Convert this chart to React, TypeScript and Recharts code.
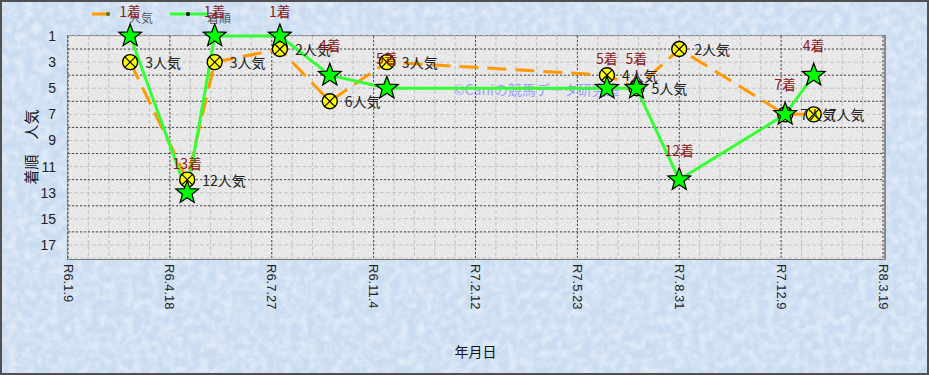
import React from "react";
import {
  LineChart,
  Line,
  XAxis,
  YAxis,
  CartesianGrid,
  LabelList,
} from "recharts";

// race dates (Reiwa era), finishing position and popularity rank
const raceDates = [
  "R6.3.10",
  "R6.5.5",
  "R6.6.1",
  "R6.8.4",
  "R6.9.22",
  "R6.11.17",
  "R7.6.21",
  "R7.7.20",
  "R7.8.31",
  "R7.12.13",
  "R8.1.10",
];
const finishPositions = [1, 13, 1, 1, 4, 5, 5, 5, 12, 7, 4];
const popularity = [3, 12, 3, 2, 6, 3, 4, 5, 2, 7, 7];

const xTickLabels = [
  "R6.1.9",
  "R6.4.18",
  "R6.7.27",
  "R6.11.4",
  "R7.2.12",
  "R7.5.23",
  "R7.8.31",
  "R7.12.9",
  "R8.3.19",
];
const yTicks = [1, 3, 5, 7, 9, 11, 13, 15, 17];
const yMajorGrid = [2, 4, 6, 8, 10, 12, 14, 16];

const ORANGE = "#ff9900";
const GREEN = "#33ff33";
const JP_FONT = "'Noto Sans CJK JP', sans-serif";
const NUM_FONT = "'Liberation Sans', Arial, sans-serif";

// "R6.1.9" -> day number
const toDay = (label: string) => {
  const [y, m, d] = label.slice(1).split(".").map(Number);
  return Date.UTC(2018 + y, m - 1, d) / 86400000;
};

const tickDays = xTickLabels.map(toDay);
const labelByDay = new Map(tickDays.map((d, i) => [d, xTickLabels[i]]));
const xMin = tickDays[0];
const xMax = tickDays[tickDays.length - 1];

// minor grid every 20 days / every rank
const xMinorGrid: number[] = [];
for (let d = xMin; d <= xMax; d += 20) xMinorGrid.push(d);
const yMinorGrid: number[] = [];
for (let v = 1; v <= 18; v++) yMinorGrid.push(v);

const data = raceDates.map((d, i) => ({
  day: toDay(d),
  finish: finishPositions[i],
  pop: popularity[i],
}));

const StarDot = (props: any) => {
  const { cx, cy, index } = props;
  if (cx == null || cy == null) return <g key={`s-${index}`} />;
  const pts: string[] = [];
  for (let k = 0; k < 10; k++) {
    const r = k % 2 === 0 ? 12 : 5;
    const a = -Math.PI / 2 + (k * Math.PI) / 5;
    pts.push(`${cx + r * Math.cos(a)},${cy + r * Math.sin(a)}`);
  }
  return (
    <polygon
      key={`s-${index}`}
      points={pts.join(" ")}
      fill="#00ff00"
      stroke="#000"
      strokeWidth={1.2}
      strokeLinejoin="miter"
    />
  );
};

const CrossDot = (props: any) => {
  const { cx, cy, index } = props;
  if (cx == null || cy == null) return <g key={`c-${index}`} />;
  const k = 5.3;
  return (
    <g key={`c-${index}`}>
      <circle cx={cx} cy={cy} r={7.5} fill="#ffff00" stroke="#000" strokeWidth={1.4} />
      <line x1={cx - k} y1={cy - k} x2={cx + k} y2={cy + k} stroke="#000" strokeWidth={1.2} />
      <line x1={cx + k} y1={cy - k} x2={cx - k} y2={cy + k} stroke="#000" strokeWidth={1.2} />
    </g>
  );
};

const FinishLabel = (props: any) => {
  const { x, y, value } = props;
  return (
    <text
      x={x}
      y={Math.max(y - 30, 11)}
      textAnchor="middle"
      dominantBaseline="central"
      fontSize={14}
      fontFamily={JP_FONT}
      fill="#8b1a1a"
    >
      {value}着
    </text>
  );
};

const PopLabel = (props: any) => {
  const { x, y, value } = props;
  return (
    <text
      x={x + 15}
      y={y}
      dominantBaseline="central"
      fontSize={14}
      fontFamily={JP_FONT}
      fill="#222"
    >
      {value}人気
    </text>
  );
};

const DateTick = ({ x, y, payload }: any) => (
  <text
    x={x}
    y={y}
    transform={`rotate(90 ${x} ${y})`}
    textAnchor="start"
    dominantBaseline="central"
    fontSize={13}
    fontFamily={NUM_FONT}
    fill="#222"
  >
    {labelByDay.get(payload.value) ?? ""}
  </text>
);

const YTitle = () => (
  <text
    x={30}
    y={147}
    transform="rotate(-90 30 147)"
    textAnchor="middle"
    dominantBaseline="central"
    fontSize={15}
    fontFamily={JP_FONT}
    fill="#111"
  >
    着順　人気
  </text>
);

const Texture = ({ id, freq, base, alpha }: { id: string; freq: number; base: string; alpha: number }) => (
  <svg width="100%" height="100%" style={{ position: "absolute", inset: 0 }}>
    <defs>
      <filter id={id} x="0" y="0" width="100%" height="100%">
        <feTurbulence type="fractalNoise" baseFrequency={freq} numOctaves={3} seed={4} />
        <feColorMatrix
          type="matrix"
          values="0 0 0 0 1  0 0 0 0 1  0 0 0 0 1  1.6 0 0 0 -0.55"
        />
      </filter>
    </defs>
    <rect width="100%" height="100%" fill={base} />
    <rect width="100%" height="100%" filter={`url(#${id})`} opacity={alpha} />
  </svg>
);

const App = () => {
  return (
    <div
      style={{
        position: "absolute",
        top: 0,
        left: 0,
        width: 929,
        height: 375,
        overflow: "hidden",
      }}
    >
      <Texture id="bgNoise" freq={0.12} base="#cadcf1" alpha={0.6} />

      {/* legend */}
      <svg width={929} height={30} style={{ position: "absolute", top: 0, left: 0 }}>
        <line x1={92} y1={14} x2={110} y2={14} stroke={ORANGE} strokeWidth={3} />
        <circle cx={108} cy={14} r={2} fill="#6b6b00" />
        <text x={129} y={17} fontSize={12} fontFamily={JP_FONT} fill="#555" dominantBaseline="central">
          人気
        </text>
        <line x1={170} y1={14} x2={207} y2={14} stroke={GREEN} strokeWidth={3} />
        <circle cx={188} cy={14} r={2} fill="#000" />
        <text x={207} y={17} fontSize={12} fontFamily={JP_FONT} fill="#555" dominantBaseline="central">
          着順
        </text>
      </svg>

      {/* plot background */}
      <div
        style={{
          position: "absolute",
          left: 67,
          top: 35,
          width: 816,
          height: 223,
          border: "1px solid #7a7a7a",
          borderRight: "2px solid #8a8a8a",
          overflow: "hidden",
        }}
      >
        <Texture id="plotNoise" freq={0.6} base="#e3e3e3" alpha={0.7} />
      </div>

      <div
        style={{
          position: "absolute",
          left: 453,
          top: 80,
          fontSize: 14,
          fontFamily: JP_FONT,
          color: "#9b9bff",
          whiteSpace: "nowrap",
          lineHeight: "18px",
        }}
      >
        ©Caniの競馬データ研究室
      </div>

      <div style={{ position: "absolute", top: 0, left: 0 }}>
        <LineChart
          width={929}
          height={375}
          data={data}
          margin={{ top: 36, right: 46, bottom: 0, left: 28 }}
        >
          <CartesianGrid
            horizontalValues={yMinorGrid}
            verticalValues={xMinorGrid}
            stroke="#c4c4c4"
            strokeDasharray="4 2"
          />
          <CartesianGrid
            horizontalValues={yMajorGrid}
            verticalValues={tickDays}
            stroke="#4a4a4a"
            strokeDasharray="2 2"
          />
          <XAxis
            dataKey="day"
            type="number"
            domain={[xMin, xMax]}
            ticks={tickDays}
            interval={0}
            height={117}
            axisLine={false}
            tickLine={false}
            tickSize={0}
            tickMargin={6}
            tick={<DateTick />}
            label={{
              value: "年月日",
              position: "insideBottom",
              offset: 18,
              fontSize: 14,
              fontFamily: JP_FONT,
              fill: "#111",
            }}
          />
          <YAxis
            type="number"
            domain={[1, 18]}
            reversed
            ticks={yTicks}
            interval={0}
            width={40}
            axisLine={false}
            tickLine={false}
            tickSize={6}
            tickMargin={6}
            tick={{ fontSize: 14, fill: "#222", fontFamily: NUM_FONT }}
            label={<YTitle />}
          />
          <Line
            type="linear"
            dataKey="pop"
            name="人気"
            stroke={ORANGE}
            strokeWidth={3}
            strokeDasharray="19 9"
            dot={CrossDot}
            activeDot={false}
            isAnimationActive={false}
          >
            <LabelList dataKey="pop" content={PopLabel} />
          </Line>
          <Line
            type="linear"
            dataKey="finish"
            name="着順"
            stroke={GREEN}
            strokeWidth={3}
            dot={StarDot}
            activeDot={false}
            isAnimationActive={false}
          >
            <LabelList dataKey="finish" content={FinishLabel} />
          </Line>
        </LineChart>
      </div>

      <div
        style={{
          position: "absolute",
          inset: 0,
          border: "2px solid #505050",
          pointerEvents: "none",
        }}
      />
    </div>
  );
};

export default App;
